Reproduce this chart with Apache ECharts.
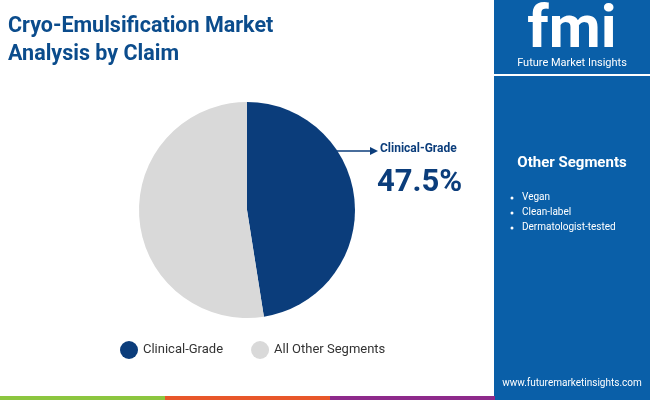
<!DOCTYPE html>
<html><head><meta charset="utf-8">
<script src="https://cdn.jsdelivr.net/npm/echarts@6/dist/echarts.min.js"></script>
<style>html,body{margin:0;padding:0}#c{width:650px;height:400px}</style>
</head><body><div id="c"></div>
<script>
const categories = ['Clinical-Grade', 'All Other Segments'];
const values = [47.5, 52.5];
const otherSegments = ['Vegan', 'Clean-label', 'Dermatologist-tested'];
const colors = ['#0b3d7b', '#d9d9d9'];
const F = 'Roboto, sans-serif';
const chart = echarts.init(document.getElementById('c'));
const g = [
  {type:'rect', shape:{x:494,y:0,width:156,height:400}, style:{fill:'#0a5fa8'}, z:0},
  {type:'rect', shape:{x:494,y:74,width:156,height:2}, style:{fill:'#ffffff'}, z:1},
  {type:'text', x:572, y:2, style:{text:'fmi', fill:'#fff', font:'bold 60px '+F, align:'center'}},
  {type:'text', x:572, y:58, style:{text:'Future Market Insights', fill:'#fff', font:'11px '+F, align:'center'}},
  {type:'text', x:572, y:156, style:{text:'Other Segments', fill:'#fff', font:'bold 15px '+F, align:'center'}},
  {type:'text', x:572, y:378, style:{text:'www.futuremarketinsights.com', fill:'#fff', font:'10px '+F, align:'center'}},
  {type:'rect', shape:{x:0,y:396,width:165,height:4}, style:{fill:'#8cc63f'}},
  {type:'rect', shape:{x:165,y:396,width:165,height:4}, style:{fill:'#e8572a'}},
  {type:'rect', shape:{x:330,y:396,width:165,height:4}, style:{fill:'#8e2a8b'}},
  {type:'text', left:8, top:13, style:{text:'Cryo-Emulsification Market\nAnalysis by Claim', fill:'#0b4c8c', font:'bold 21.5px '+F, lineHeight:28}},
  {type:'text', left:380, top:143, style:{text:categories[0], fill:'#0b3d7b', font:'bold 12px '+F}},
  {type:'text', left:377, top:168, style:{text:values[0]+'%', fill:'#0b3d7b', font:'bold 31px '+F}},
  {type:'line', shape:{x1:337,y1:151,x2:372,y2:151}, style:{stroke:'#0b3d7b', lineWidth:1.5}},
  {type:'polygon', shape:{points:[[378,151],[370,147],[370,155]]}, style:{fill:'#0b3d7b'}}
];
otherSegments.forEach((s,i)=>{
  g.push({type:'circle', shape:{cx:512,cy:198+i*15,r:1.5}, style:{fill:'#fff'}});
  g.push({type:'text', left:522, top:192+i*15, style:{text:s, fill:'#fff', font:'10px '+F}});
});
chart.setOption({
  animation:false,
  color: colors,
  graphic: g,
  legend: {bottom:36, left:115, itemWidth:18, itemHeight:18, itemGap:28, icon:'circle',
    textStyle:{fontSize:13, fontFamily:F, color:'#333'}, data:categories},
  series: [{type:'pie', center:[247,210], radius:[0,108], startAngle:90, clockwise:true,
    label:{show:false}, labelLine:{show:false}, silent:true,
    data: categories.map((c,i)=>({name:c, value:values[i]}))}]
});
</script></body></html>
